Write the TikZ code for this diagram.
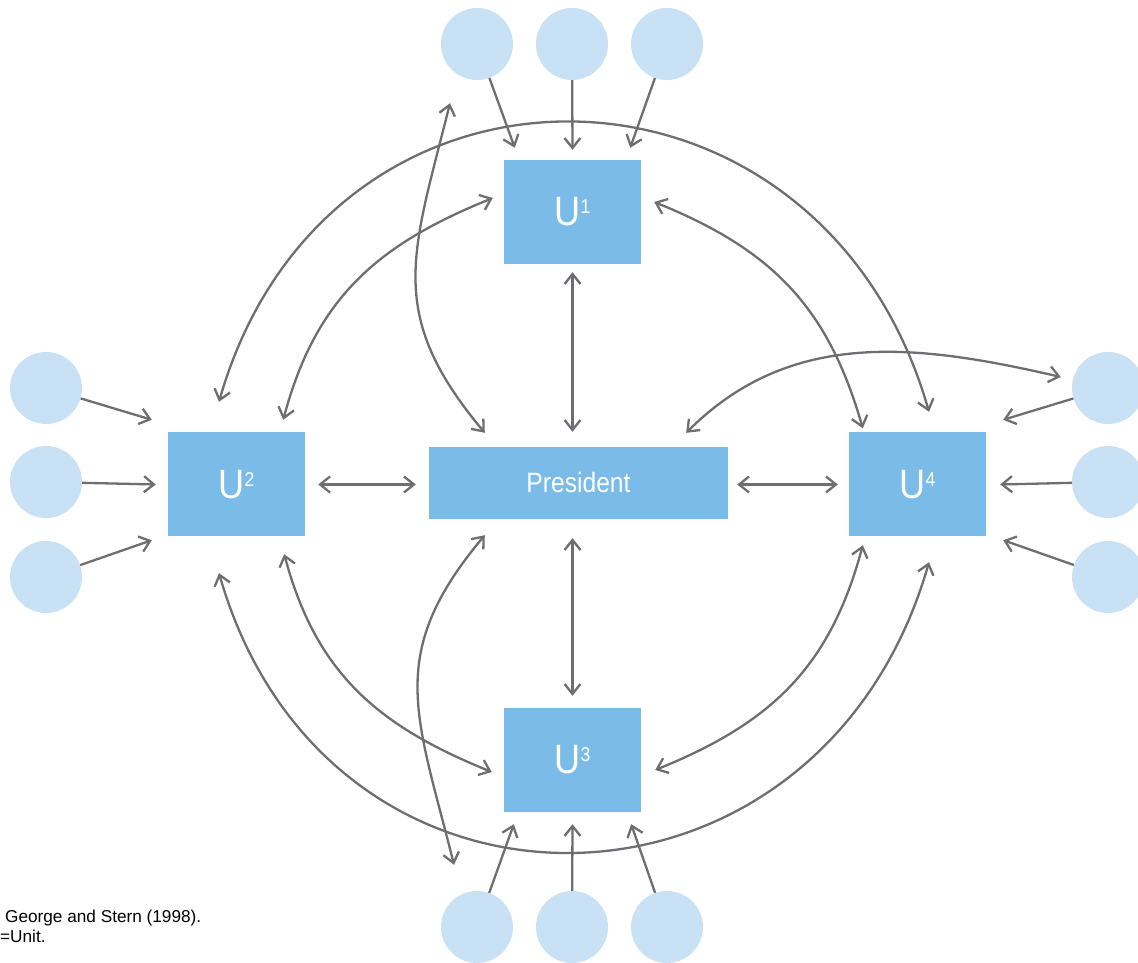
\documentclass[tikz,border=0pt]{standalone}
\usepackage{fontspec}
\setmainfont{Liberation Sans}
\newfontfamily\boxfont[FakeStretch=0.88]{Liberation Sans}
\usetikzlibrary{arrows.meta}
\definecolor{unitblue}{HTML}{7ABCE7}
\definecolor{memberblue}{HTML}{C9E1F5}
\definecolor{linkgray}{HTML}{6D6E71}
\newcommand\unitmark[1]{U\raisebox{12pt}{\fontsize{20}{20}\selectfont #1}}

\begin{document}
\begin{tikzpicture}[x=1pt, y=1pt,
 >={Straight Barb[length=10pt,width=16pt]},
 unit/.style={fill=unitblue, minimum width=137pt, minimum height=104pt, inner sep=0pt, text=white, font=\boxfont\fontsize{41}{41}\selectfont},
 chief/.style={fill=unitblue, minimum width=299pt, minimum height=72pt, inner sep=0pt, text=white, font=\boxfont\fontsize{28}{28}\selectfont},
 member/.style={circle, fill=memberblue, minimum size=72pt, inner sep=0pt},
 link/.style={draw=linkgray, line width=2.3pt, <->},
 feed/.style={draw=linkgray, line width=2.3pt, ->},
 note/.style={anchor=base west, inner sep=0pt, font=\fontsize{17.2}{17.2}\selectfont}]
 \useasboundingbox (0,0) rectangle (1138,963);
 % units and president
 \node[unit] (u1) at (572.5,751) {\unitmark{1}};
 \node[unit] (u2) at (236.5,478.5) {\unitmark{2}};
 \node[unit] (u3) at (572.5,203) {\unitmark{3}};
 \node[unit] (u4) at (917.5,478.5) {\unitmark{4}};
 \node[chief] (pres) at (578.5,480) {President};
 % members round each unit
 \foreach \i/\x in {1/477, 2/572, 3/667} {
  \node[member] (t\i) at (\x,919) {};
  \node[member] (b\i) at (\x,36) {};
 }
 \foreach \i/\y in {1/575, 2/481, 3/386} {
  \node[member] (l\i) at (46,\y) {};
  \node[member] (r\i) at (1108,\y) {};
 }
 \coordinate (tgap) at ([shift={(-27,-23)}]t1.south);
 \coordinate (bgap) at ([shift={(-23,26)}]b1.north);
 % members to units
 \draw[feed] (t1) -- ([shift={(11,12)}]u1.north west);
 \draw[feed] (t2) -- ([shift={(0,10)}]u1.north);
 \draw[feed] (t3) -- ([shift={(-11,12)}]u1.north east);
 \draw[feed] (b1) -- ([shift={(10,-12)}]u3.south west);
 \draw[feed] (b2) -- ([shift={(0,-12)}]u3.south);
 \draw[feed] (b3) -- ([shift={(-10,-12)}]u3.south east);
 \draw[feed] (l1) -- ([shift={(-16,12.5)}]u2.north west);
 \draw[feed] (l2) -- ([shift={(-12,0)}]u2.west);
 \draw[feed] (l3) -- ([shift={(-16,-3.5)}]u2.south west);
 \draw[feed] (r1) -- ([shift={(17,12.5)}]u4.north east);
 \draw[feed] (r2) -- ([shift={(14,0)}]u4.east);
 \draw[feed] (r3) -- ([shift={(17,-3.5)}]u4.south east);
 % president to units
 \draw[link, shorten <=8pt, shorten >=15pt] (u1.south) -- (u1.south |- pres.north);
 \draw[link, shorten <=19pt, shorten >=12pt] (u3.north |- pres.south) -- (u3.north);
 \draw[link, shorten <=13pt, shorten >=13pt] (u2.east) -- (u2.east -| pres.west);
 \draw[link, shorten <=9pt, shorten >=11pt] (u4.west -| pres.east) -- (u4.west);
 % units to units
 \draw[link] ([shift={(-17.5,30.5)}]u2.north) to[out=74, in=106, looseness=1.42] ([shift={(11.5,20.5)}]u4.north);
 \draw[link] ([shift={(-17.5,-36.5)}]u2.south) to[out=-74, in=-106, looseness=1.42] ([shift={(11.5,-25.5)}]u4.south);
 \draw[link] ([shift={(-22,12.5)}]u2.north east) to[out=75, in=202, looseness=1.05] ([shift={(-11,14)}]u1.west);
 \draw[link] ([shift={(14,4)}]u4.north west) to[out=106, in=-22, looseness=1.05] ([shift={(13,10)}]u1.east);
 \draw[link] ([shift={(-21,-17.5)}]u2.south east) to[out=-75, in=158, looseness=1.05] ([shift={(-12,-12)}]u3.west);
 \draw[link] ([shift={(14,-8.5)}]u4.south west) to[out=-105, in=22, looseness=1.05] ([shift={(14,-10)}]u3.east);
 % president to the outside
 \draw[link] ([shift={(56,14)}]pres.north west) to[out=130, in=-104, looseness=1.2] (tgap);
 \draw[link] ([shift={(56,-16)}]pres.south west) to[out=-130, in=104, looseness=1.2] (bgap);
 \draw[link] ([shift={(-42,14)}]pres.north east) to[out=45, in=167] ([shift={(-11,11)}]r1.west);
 % notes
 \node[note] (src) at (5,40) {George and Stern (1998).};
 \node[note] (key) at (0,20) {=Unit.};
\end{tikzpicture}
\end{document}
